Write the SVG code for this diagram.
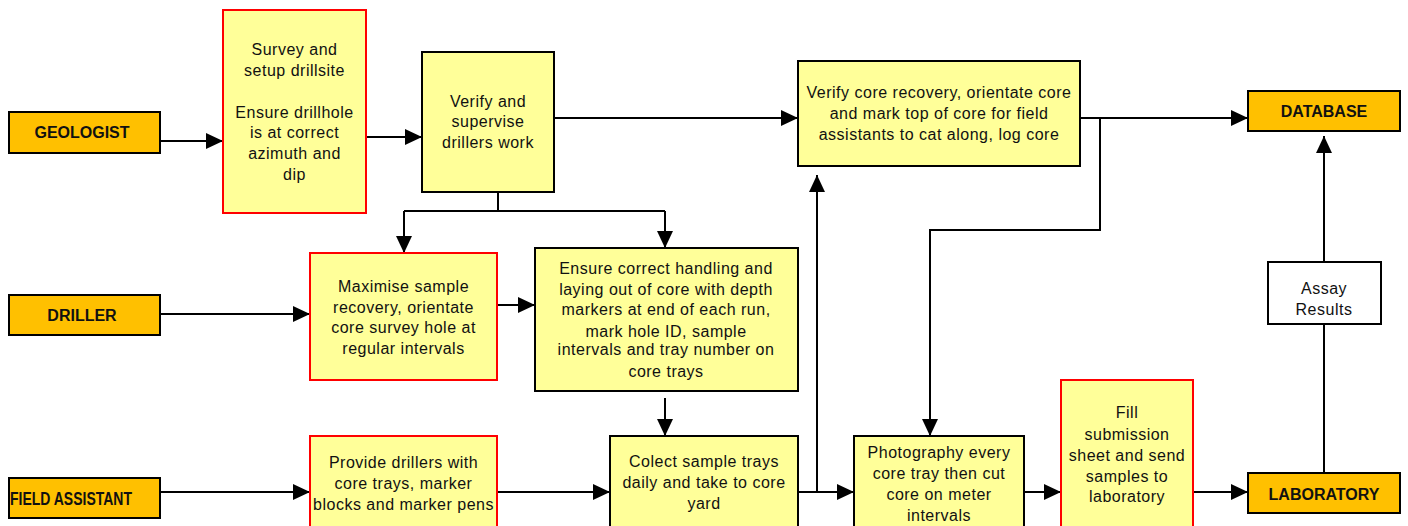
<svg xmlns="http://www.w3.org/2000/svg" width="1408" height="526" viewBox="0 0 1408 526">
<defs>
<style>
.lab{fill:#FFC000;stroke:#000;stroke-width:2}
.ybk{fill:#FFFF99;stroke:#000;stroke-width:2}
.yrd{fill:#FFFF99;stroke:#FF0000;stroke-width:2}
.wht{fill:#FFFFFF;stroke:#000;stroke-width:2}
.t{font-family:"Liberation Sans",Arial,sans-serif;font-size:16px;letter-spacing:0.5px;fill:#111;text-anchor:middle}
.b{font-family:"Liberation Sans",Arial,sans-serif;font-size:16px;font-weight:bold;fill:#111;text-anchor:middle}
.c{fill:none;stroke:#000;stroke-width:2}
</style>
<marker id="ah" markerUnits="userSpaceOnUse" markerWidth="18" markerHeight="18" refX="17" refY="8" orient="auto">
<path d="M0,0 L17,8 L0,16 Z" fill="#000"/>
</marker>
</defs>
<rect width="1408" height="526" fill="#fff"/>

<g id="connectors">
<path class="c" d="M153,141 H223" marker-end="url(#ah)"/>
<path class="c" d="M366,137 H422" marker-end="url(#ah)"/>
<path class="c" d="M554,118 H798" marker-end="url(#ah)"/>
<path class="c" d="M1080,118 H1248" marker-end="url(#ah)"/>
<path class="c" d="M1100,118 V230 H930 V436" marker-end="url(#ah)"/>
<path class="c" d="M498,192 V211"/>
<path class="c" d="M404,211 H665"/>
<path class="c" d="M404,211 V253" marker-end="url(#ah)"/>
<path class="c" d="M665,211 V248" marker-end="url(#ah)"/>
<path class="c" d="M160,314 H310" marker-end="url(#ah)"/>
<path class="c" d="M497,305 H535" marker-end="url(#ah)"/>
<path class="c" d="M665,398 V436" marker-end="url(#ah)"/>
<path class="c" d="M160,492 H310" marker-end="url(#ah)"/>
<path class="c" d="M497,492 H610" marker-end="url(#ah)"/>
<path class="c" d="M798,492 H854" marker-end="url(#ah)"/>
<path class="c" d="M817,492 V175" marker-end="url(#ah)"/>
<path class="c" d="M1024,492 H1061" marker-end="url(#ah)"/>
<path class="c" d="M1193,492 H1248" marker-end="url(#ah)"/>
<path class="c" d="M1324,473 V324"/>
<path class="c" d="M1324,262 V136" marker-end="url(#ah)"/>
</g>

<g id="geologist">
<rect class="lab" x="9" y="112" width="151" height="41"/>
<text class="b" x="82" y="138">GEOLOGIST</text>
</g>

<g id="survey">
<rect class="yrd" x="223" y="10" width="143" height="203"/>
<text class="t"><tspan x="294.5" y="55">Survey and</tspan><tspan x="294.5" y="76">setup drillsite</tspan><tspan x="294.5" y="118">Ensure drillhole</tspan><tspan x="294.5" y="138">is at correct</tspan><tspan x="294.5" y="159">azimuth and</tspan><tspan x="294.5" y="180">dip</tspan></text>
</g>

<g id="verify-supervise">
<rect class="ybk" x="422" y="52" width="132" height="140"/>
<text class="t"><tspan x="488" y="107">Verify and</tspan><tspan x="488" y="127">supervise</tspan><tspan x="488" y="148">drillers work</tspan></text>
</g>

<g id="verify-core">
<rect class="ybk" x="798" y="61" width="282" height="105"/>
<text class="t"><tspan x="939" y="98">Verify core recovery, orientate core</tspan><tspan x="939" y="119">and mark top of core for field</tspan><tspan x="939" y="140">assistants to cat along, log core</tspan></text>
</g>

<g id="database">
<rect class="lab" x="1248" y="91" width="152" height="40"/>
<text class="b" x="1324" y="117">DATABASE</text>
</g>

<g id="driller">
<rect class="lab" x="9" y="295" width="151" height="40"/>
<text class="b" x="82" y="321">DRILLER</text>
</g>

<g id="maximise">
<rect class="yrd" x="310" y="253" width="187" height="127"/>
<text class="t"><tspan x="403.5" y="292">Maximise sample</tspan><tspan x="403.5" y="313">recovery, orientate</tspan><tspan x="403.5" y="333">core survey hole at</tspan><tspan x="403.5" y="354">regular intervals</tspan></text>
</g>

<g id="ensure">
<rect class="ybk" x="535" y="248" width="263" height="143"/>
<text class="t"><tspan x="666" y="274">Ensure correct handling and</tspan><tspan x="666" y="295">laying out of core with depth</tspan><tspan x="666" y="315">markers at end of each run,</tspan><tspan x="666" y="337">mark hole ID, sample</tspan><tspan x="666" y="355">intervals and tray number on</tspan><tspan x="666" y="377">core trays</tspan></text>
</g>

<g id="assay">
<rect class="wht" x="1268" y="262" width="113" height="62"/>
<text class="t"><tspan x="1324" y="294">Assay</tspan><tspan x="1324" y="315">Results</tspan></text>
</g>

<g id="field-assistant">
<rect class="lab" x="9" y="478" width="151" height="40"/>
<text class="b" x="71" y="505" style="font-size:17.5px" textLength="122" lengthAdjust="spacingAndGlyphs">FIELD ASSISTANT</text>
</g>

<g id="provide">
<rect class="yrd" x="310" y="436" width="187" height="100"/>
<text class="t"><tspan x="403.5" y="468">Provide drillers with</tspan><tspan x="403.5" y="489">core trays, marker</tspan><tspan x="403.5" y="510">blocks and marker pens</tspan></text>
</g>

<g id="collect">
<rect class="ybk" x="610" y="436" width="188" height="100"/>
<text class="t"><tspan x="704" y="467">Colect sample trays</tspan><tspan x="704" y="488">daily and take to core</tspan><tspan x="704" y="509">yard</tspan></text>
</g>

<g id="photography">
<rect class="ybk" x="854" y="436" width="170" height="100"/>
<text class="t"><tspan x="939" y="458">Photography every</tspan><tspan x="939" y="479">core tray then cut</tspan><tspan x="939" y="500">core on meter</tspan><tspan x="939" y="521">intervals</tspan></text>
</g>

<g id="fill-submission">
<rect class="yrd" x="1061" y="380" width="132" height="156"/>
<text class="t"><tspan x="1127" y="418">Fill</tspan><tspan x="1127" y="440">submission</tspan><tspan x="1127" y="461">sheet and send</tspan><tspan x="1127" y="482">samples to</tspan><tspan x="1127" y="502">laboratory</tspan></text>
</g>

<g id="laboratory">
<rect class="lab" x="1248" y="473" width="152" height="40"/>
<text class="b" x="1324" y="500">LABORATORY</text>
</g>
</svg>
